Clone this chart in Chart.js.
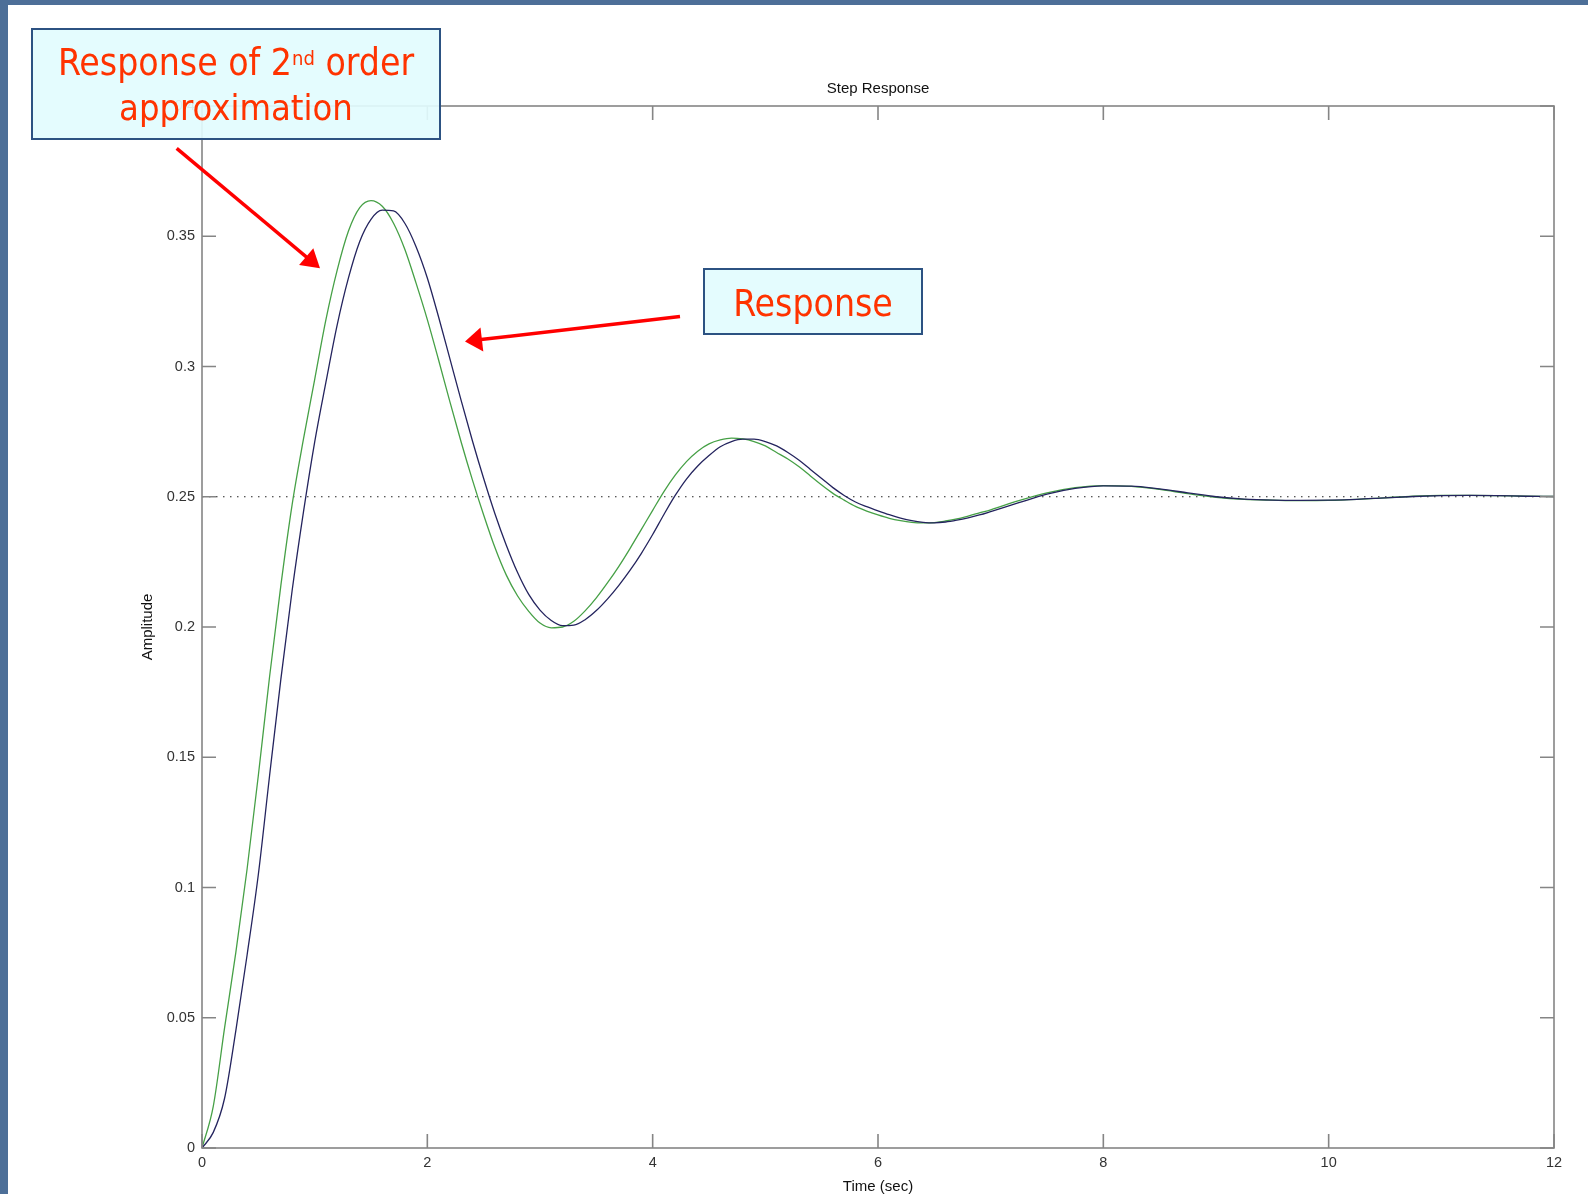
<!DOCTYPE html>
<html>
<head>
<meta charset="utf-8">
<title>Step Response</title>
<script src="https://cdn.jsdelivr.net/npm/chart.js@4.4.1/dist/chart.umd.min.js"></script>
<style>
  html, body { margin:0; padding:0; }
  body { width:1588px; height:1194px; overflow:hidden; position:relative; background:#4d6f98; }
  #sheet { position:absolute; left:8px; top:5px; right:0; bottom:0; background:#fff; }
  #wrap { position:absolute; left:0; top:0; width:1588px; height:1196px; }
  #arrows { position:absolute; left:0; top:0; }
  .note { position:absolute; box-sizing:border-box; border:2px solid #2c5282; background:rgba(226,252,254,0.92);
          color:#ff3300; font-family:"DejaVu Sans Condensed","DejaVu Sans",sans-serif; font-stretch:condensed;
          font-size:37px; line-height:45px; text-align:center; white-space:nowrap; }
  .note sup { font-size:20px; vertical-align:10px; line-height:0; }
  #note1 { left:31px; top:28px; width:410px; height:112px; padding-top:10px; }
  #note1 .l2 { font-size:36px; }
  #note2 { left:703px; top:268px; width:220px; height:67px; padding-top:11px; }
</style>
</head>
<body>
<div id="sheet"></div>
<div id="wrap"><canvas id="chart"></canvas></div>
<svg id="arrows" width="1588" height="1194">
  <line x1="176.7" y1="148.3" x2="307" y2="257.5" stroke="#ff0000" stroke-width="3.5"/>
  <polygon points="320,268.3 299.1,265.1 313.3,248.3" fill="#ff0000"/>
  <line x1="680" y1="316.5" x2="481" y2="339.6" stroke="#ff0000" stroke-width="3.5"/>
  <polygon points="465,341.5 480.5,327.6 483.3,351.4" fill="#ff0000"/>
</svg>
<div class="note" id="note1">Response of 2<sup>nd</sup> order<br><span class="l2">approximation</span></div>
<div class="note" id="note2">Response</div>

<script>
// ===== data =====
const times = [0,0.1,0.2,0.3,0.4,0.5,0.6,0.7,0.8,0.9,
  1,1.1,1.2,1.3,1.4,1.5,1.6,1.7,1.8,1.9,
  2,2.1,2.2,2.3,2.4,2.5,2.6,2.7,2.8,2.9,
  3,3.1,3.2,3.3,3.4,3.5,3.6,3.7,3.8,3.9,
  4,4.1,4.2,4.3,4.4,4.5,4.6,4.7,4.8,4.9,
  5,5.1,5.2,5.3,5.4,5.5,5.6,5.7,5.8,5.9,
  6,6.1,6.2,6.3,6.4,6.5,6.6,6.7,6.8,6.9,
  7,7.25,7.5,7.75,8,8.25,8.5,8.75,9,9.25,9.5,9.75,
  10,10.25,10.5,10.75,11,11.25,11.5,11.75,12];

// system response (dark blue)
const response = [0,0.006,0.019,0.045,0.074,0.105,0.143,0.18,0.214,0.244,
  0.271,0.294,0.316,0.334,0.348,0.3565,0.36,0.3597,0.355,0.346,
  0.334,0.319,0.303,0.287,0.2715,0.257,0.2435,0.2315,0.221,0.2125,
  0.2065,0.2025,0.2005,0.2007,0.2028,0.2063,0.2108,0.216,0.2218,0.2283,
  0.2355,0.2432,0.2505,0.2568,0.2618,0.2658,0.2692,0.2712,0.2721,0.2721,
  0.2712,0.2695,0.267,0.264,0.2605,0.257,0.2535,0.2505,0.248,0.2462,
  0.2446,0.2431,0.2418,0.2408,0.2402,0.24,0.2403,0.241,0.2419,0.243,
  0.2443,0.2477,0.251,0.2532,0.2542,0.2541,0.253,0.2515,0.25,0.2491,0.2487,0.2486,
  0.2487,0.249,0.2496,0.2501,0.2504,0.2505,0.2504,0.2502,0.2501];

// 2nd order approximation (green)
const approx = [0,0.016,0.046,0.075,0.107,0.143,0.181,0.216,0.247,0.272,
  0.295,0.318,0.337,0.352,0.361,0.3637,0.3615,0.355,0.345,0.332,
  0.318,0.3025,0.2865,0.271,0.2565,0.243,0.2305,0.22,0.212,0.206,
  0.2015,0.1997,0.2,0.2022,0.2062,0.2112,0.217,0.2233,0.2302,0.2375,
  0.2448,0.252,0.2583,0.2635,0.2675,0.2703,0.2718,0.2725,0.2722,0.2712,
  0.2695,0.267,0.2645,0.2615,0.258,0.2545,0.2513,0.2487,0.2463,0.2445,
  0.243,0.2417,0.2408,0.2402,0.24,0.2401,0.2407,0.2415,0.2426,0.2438,
  0.245,0.2485,0.2515,0.2535,0.2543,0.254,0.2528,0.2512,0.2498,0.249,0.2487,0.2485,
  0.2486,0.249,0.2496,0.2502,0.2505,0.2505,0.2504,0.2502,0.2501];

const timeRange = [0, 12];
const steadyState = 0.25;
const ampRange = [0, 0.4];

// ===== MATLAB-ish axes box with inward ticks =====
const TICK = 14;
const matlabAxes = {
  id: 'matlabAxes',
  afterDatasetsDraw(chart) {
    const {ctx, chartArea: a, scales: {x, y}} = chart;
    ctx.save();
    ctx.strokeStyle = '#858585';
    ctx.lineWidth = 1.6;
    ctx.strokeRect(a.left, a.top, a.right - a.left, a.bottom - a.top);
    ctx.beginPath();
    x.ticks.forEach(t => {
      const px = x.getPixelForValue(t.value);
      ctx.moveTo(px, a.bottom); ctx.lineTo(px, a.bottom - TICK);
      ctx.moveTo(px, a.top); ctx.lineTo(px, a.top + TICK);
    });
    y.ticks.forEach(t => {
      const py = y.getPixelForValue(t.value);
      ctx.moveTo(a.left, py); ctx.lineTo(a.left + TICK, py);
      ctx.moveTo(a.right, py); ctx.lineTo(a.right - TICK, py);
    });
    ctx.stroke();
    ctx.restore();
  }
};

const FONT = "'Liberation Sans', Arial, sans-serif";
const pts = vals => times.map((t, i) => ({x: t, y: vals[i]}));

new Chart(document.getElementById('chart'), {
  type: 'line',
  data: {
    datasets: [
      { label: 'Response', data: pts(response), borderColor: '#24245e', borderWidth: 1.3,
        pointRadius: 0, cubicInterpolationMode: 'monotone' },
      { label: '2nd order approximation', data: pts(approx), borderColor: '#46a046', borderWidth: 1.3,
        pointRadius: 0, cubicInterpolationMode: 'monotone' },
      { label: 'Steady state', data: timeRange.map(t => ({x: t, y: steadyState})), borderColor: '#222',
        borderWidth: 1, borderDash: [1.5, 5.5], pointRadius: 0 }
    ]
  },
  options: {
    responsive: true, maintainAspectRatio: false, animation: false, devicePixelRatio: 1,
    layout: { padding: { left: 0, right: 34, top: 0, bottom: 0 } },
    plugins: {
      legend: { display: false },
      tooltip: { enabled: false },
      title: { display: true, text: 'Step Response', fullSize: false, color: '#111',
               font: { family: FONT, size: 15, weight: 'normal' }, padding: { top: 80, bottom: 8 } }
    },
    scales: {
      x: {
        type: 'linear', min: timeRange[0], max: timeRange[1],
        grid: { display: false, drawTicks: false }, border: { display: false },
        ticks: { stepSize: 2, padding: 6, maxRotation: 0, color: '#333', font: { family: FONT, size: 14.5 } },
        title: { display: true, text: 'Time (sec)', color: '#111', font: { family: FONT, size: 15 },
                 padding: { top: 0, bottom: 0 } },
        afterFit: s => { s.height = 48; }
      },
      y: {
        min: ampRange[0], max: ampRange[1],
        grid: { display: false, drawTicks: false }, border: { display: false },
        ticks: { stepSize: 0.05, padding: 7, color: '#333', font: { family: FONT, size: 14.5 },
                 callback: v => String(+v.toFixed(2)) },
        title: { display: true, text: 'Amplitude', color: '#111', font: { family: FONT, size: 15 },
                 padding: { top: 139, bottom: 0 } },
        afterFit: s => { s.width = 202; }
      }
    }
  },
  plugins: [matlabAxes]
});
</script>
</body>
</html>
